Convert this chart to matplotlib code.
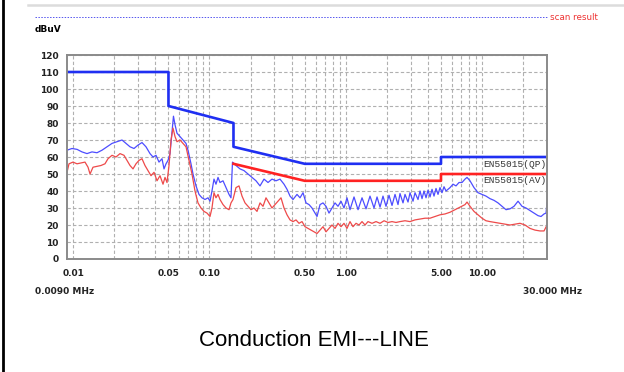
import matplotlib
matplotlib.use("Agg")
import matplotlib.pyplot as plt
from matplotlib.lines import Line2D

# ─── Datos ─────────────────────────────────────────────────────────────────

# límites EN55015 (MHz, dBuV)
qp_lim_f = [0.009, 0.05, 0.05, 0.15, 0.15, 0.5, 5.0, 5.0, 30.0]
qp_lim_v = [110, 110, 90, 80, 66, 56, 56, 60, 60]
av_lim_f = [0.15, 0.5, 5.0, 5.0, 30.0]
av_lim_v = [56, 46, 46, 50, 50]

# barrido QP (azul)
qp_f = [0.0090, 0.00979, 0.01066, 0.01159, 0.01262, 0.01373, 0.01494, 0.01626,
        0.0177, 0.01926, 0.02095, 0.0228, 0.0244, 0.0261, 0.02793, 0.02987,
        0.03196, 0.0342, 0.0366, 0.0385, 0.0405, 0.0426, 0.04483, 0.04637,
        0.04797, 0.0496, 0.05132, 0.05308, 0.0544, 0.05584, 0.05776, 0.06076,
        0.06392, 0.06724, 0.06955, 0.07317, 0.07568, 0.07962, 0.08376, 0.0881,
        0.0927, 0.09752, 0.1009, 0.1043, 0.1079, 0.1116, 0.1155, 0.1194,
        0.1257, 0.1322, 0.1391, 0.1438, 0.1475, 0.1565, 0.1675, 0.1792,
        0.1918, 0.2052, 0.2195, 0.2349, 0.2513, 0.2689, 0.2876, 0.3078,
        0.3293, 0.3524, 0.3707, 0.3900, 0.4102, 0.4389, 0.4618, 0.4858,
        0.5111, 0.5377, 0.5656, 0.5951, 0.6156, 0.6476, 0.6812, 0.7166,
        0.7538, 0.7929, 0.8342, 0.8775, 0.9231, 0.9711,
        1.0215, 1.0746, 1.150, 1.231, 1.317, 1.409, 1.507, 1.613, 1.697,
        1.785, 1.877, 1.975, 2.078, 2.186, 2.300, 2.419, 2.502, 2.632,
        2.723, 2.865, 2.963, 3.117, 3.224, 3.392, 3.509, 3.630, 3.754,
        3.884, 4.017, 4.155, 4.298, 4.445, 4.598, 4.756, 4.919, 5.088,
        5.263, 5.444, 5.826, 6.128, 6.447, 6.783, 7.135, 7.507, 7.765,
        8.168, 8.738, 9.35, 10.00, 10.70, 11.45, 12.25, 13.11, 14.03,
        15.01, 16.06, 17.18, 18.39, 19.67, 21.04, 22.51, 24.09, 25.78,
        27.12, 28.53, 29.51, 30.0]
qp_v = [64, 65, 64.5, 63, 62, 63, 62.5, 64,
        66, 68, 69, 70, 68, 66, 65, 67,
        68.5, 66, 62, 60, 61, 57, 59, 53,
        56, 58, 62, 75, 84, 79, 74, 72,
        70, 68, 64, 56, 50, 43, 38, 36,
        35, 36, 34, 40, 47, 44, 48, 45,
        46, 42, 38, 36, 57, 55, 53, 52,
        50, 48, 46, 43, 47, 45, 47, 46,
        47, 44, 41, 37, 35, 38, 36, 39,
        33, 32, 30, 27, 25, 32, 33, 31,
        27, 30, 33, 31, 34, 30,
        36, 29, 36.5, 29, 36, 29.5, 37, 30, 36.5,
        30.5, 37, 31, 37.5, 31.5, 38, 32, 38.5, 33,
        38, 33.5, 39, 34, 39, 35, 40, 35.5, 40,
        36, 40.5, 36.5, 41, 37, 41.5, 38, 42, 39,
        42.5, 40, 42, 44, 43, 45, 45, 47, 48,
        46, 42, 39, 38, 37, 35.5, 34.5, 33, 31,
        29, 29.5, 31, 34, 31, 30, 28.5, 27, 25.5,
        25, 26.5, 27, 33]

# barrido AV (rojo)
av_f = [0.0090, 0.00931, 0.00996, 0.01066, 0.0114, 0.0122, 0.01284, 0.01328,
        0.01397, 0.01494, 0.01598, 0.0171, 0.0180, 0.01926, 0.0206, 0.02204,
        0.02358, 0.0248, 0.0261, 0.02746, 0.02888, 0.03038, 0.03196, 0.03362,
        0.03538, 0.03722, 0.03916, 0.0412, 0.04333, 0.0456, 0.04716, 0.04878,
        0.05046, 0.0522, 0.05398, 0.05584, 0.05776, 0.06076, 0.06392, 0.06724,
        0.07074, 0.0744, 0.07828, 0.08236, 0.08664, 0.09115, 0.0959, 0.1009,
        0.1043, 0.1079, 0.1116, 0.1155, 0.1194, 0.1257, 0.1322, 0.1391,
        0.1438, 0.1488, 0.1565, 0.1647, 0.1733, 0.1823, 0.1918, 0.2017,
        0.2122, 0.2233, 0.2349, 0.2471, 0.2599, 0.2735, 0.2876, 0.3026,
        0.3183, 0.3349, 0.3524, 0.3707, 0.3900, 0.4102, 0.4316, 0.4540,
        0.4776, 0.5026, 0.5287, 0.5561, 0.5852, 0.6156, 0.6476, 0.6812,
        0.7166, 0.7538, 0.7929, 0.8342, 0.8775, 0.9231, 0.9711, 1.0215,
        1.0746, 1.1305, 1.190, 1.252, 1.317, 1.385, 1.457, 1.559, 1.668,
        1.785, 1.910, 2.043, 2.186, 2.339, 2.502, 2.723, 2.963, 3.224,
        3.509, 3.819, 4.155, 4.521, 4.919, 5.353, 5.826, 6.339, 6.899,
        7.507, 7.765, 8.168, 8.738, 9.35, 10.00, 10.70, 11.45, 12.46,
        13.56, 14.76, 16.06, 17.47, 19.02, 20.69, 22.51, 24.50, 26.66,
        28.53, 30.0]
av_v = [51, 56, 57, 56, 56.5, 57, 54, 50,
        54, 54.5, 55, 56, 59, 61, 60, 62,
        61, 58, 55, 53, 56, 58, 59, 55,
        52, 49, 51, 46, 49, 44, 48, 45,
        55, 70, 77, 72, 69, 70, 68, 66,
        58, 50, 40, 33, 30, 28, 27, 25,
        30, 39, 36, 38, 35, 32, 30, 29,
        33, 35, 42, 43, 37, 33, 31, 29,
        30, 28, 33, 31, 36, 33, 30, 32,
        34, 36, 30, 26, 23, 22, 23, 21,
        22, 19, 18, 17, 16, 15, 17, 19,
        16, 18, 20, 18, 21, 19, 21, 18,
        22, 19, 21, 20, 22, 20, 22, 21, 22,
        21, 22.5, 21.5, 22, 21.5, 22, 22.5, 22, 23,
        23.5, 24, 24, 25, 26, 26.5, 27.5, 29, 30.5,
        32, 33.5, 31, 28, 26, 24, 22.5, 22, 21.5,
        21, 20.5, 20, 20.5, 21, 20, 18, 17, 16.5,
        16.5, 20]

y_ticks = list(range(0, 121, 10))
x_grid = [m * d for d in (0.01, 0.1, 1.0, 10.0) for m in range(1, 10) if m * d <= 30]
x_labels = {0.01: "0.01", 0.05: "0.05", 0.1: "0.10", 0.5: "0.50",
            1.0: "1.00", 5.0: "5.00", 10.0: "10.00"}

# ─── Figura ────────────────────────────────────────────────────────────────

fig = plt.figure(figsize=(6.24, 3.72), dpi=100)
W, H = 624, 372

# marco y cabecera de la captura
fig.add_artist(Line2D([3 / W, 3 / W], [0, 1], color="black", lw=2.0))
fig.add_artist(Line2D([28 / W, 1], [1 - 5 / H, 1 - 5 / H], color="#dcdcdc", lw=1.8))
fig.add_artist(Line2D([35 / W, 548 / W], [1 - 17 / H, 1 - 17 / H], color="#5555ee",
                      lw=0.7, ls=(0, (1.5, 1.5))))
fig.text(550 / W, 1 - 17 / H, "scan result", color="#ee3333", fontsize=6.3,
         va="center", ha="left")
fig.text(35 / W, 1 - 29 / H, "dBuV", fontsize=6.5, fontweight="bold", va="center")

ax = fig.add_axes([67 / W, 1 - 259 / H, 480 / W, 204 / H])
ax.set_xscale("log")
ax.set_xlim(0.009, 30)
ax.set_ylim(0, 120)

ax.set_yticks(y_ticks)
ax.set_yticklabels([str(t) for t in y_ticks], fontsize=6.5, fontweight="bold")
ax.set_xticks(x_grid)
ax.set_xticklabels([x_labels.get(round(g, 4), "") for g in x_grid],
                   fontsize=6.5, fontweight="bold")
ax.xaxis.set_minor_locator(matplotlib.ticker.NullLocator())
ax.tick_params(length=0, pad=7, colors="#222222")
ax.tick_params(axis="y", pad=6)
ax.grid(True, color="#b0b0b0", lw=0.8, ls=(0, (3, 2)))
for s in ax.spines.values():
    s.set_color("#8a8a8a")
    s.set_linewidth(1.4)

ax.plot(qp_f, qp_v, color="#4d4dff", lw=0.9)
ax.plot(av_f, av_v, color="#ee4a4a", lw=0.9)
ax.plot(qp_lim_f, qp_lim_v, color="#1f2ff2", lw=1.9)
ax.plot(av_lim_f, av_lim_v, color="#ff2222", lw=1.9)

ax.text(29.5, 55.6, "EN55015(QP)", family="Liberation Mono", fontsize=6.8,
        ha="right", va="center", color="#333333")
ax.text(29.5, 46.2, "EN55015(AV)", family="Liberation Mono", fontsize=6.8,
        ha="right", va="center", color="#333333")

fig.text(35 / W, 1 - 291 / H, "0.0090 MHz", fontsize=6.5, fontweight="bold",
         va="center", color="#222222")
fig.text(582 / W, 1 - 291 / H, "30.000 MHz", fontsize=6.5, fontweight="bold",
         va="center", ha="right", color="#222222")
fig.text(314 / W, 1 - 341 / H, "Conduction EMI---LINE", family="Liberation Sans",
         fontsize=16, ha="center", va="center")

fig.savefig("out.png", dpi=100)
